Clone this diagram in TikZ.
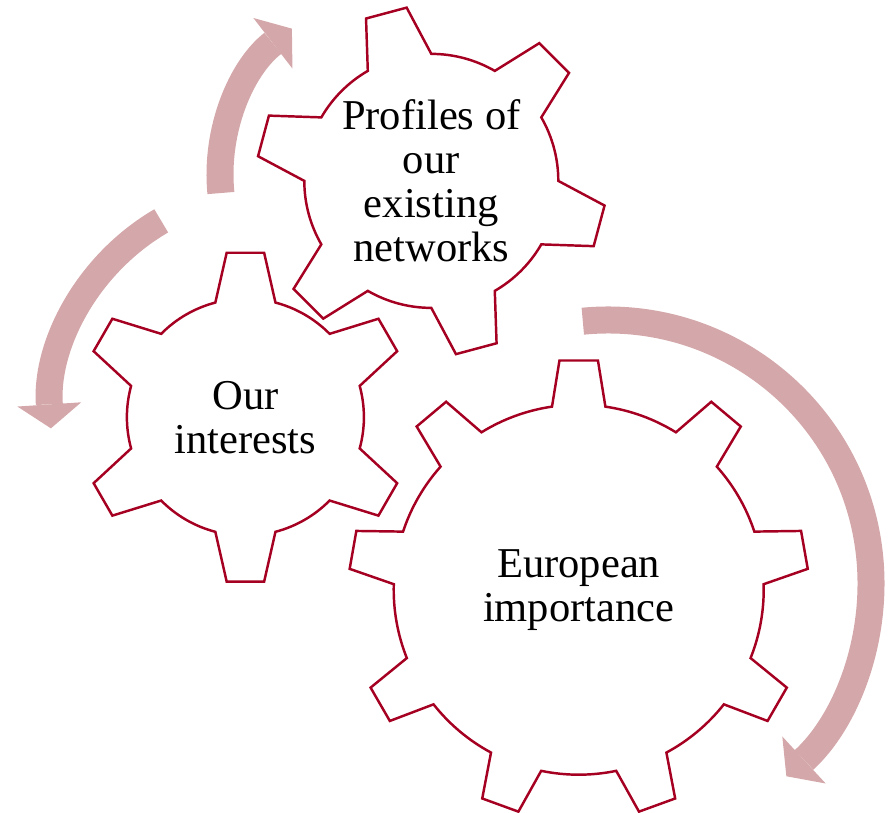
\documentclass[tikz,border=0pt]{standalone}
\usepackage{fontspec}
\setmainfont{Liberation Serif}
\usetikzlibrary{arrows.meta}
\definecolor{gearred}{RGB}{165,0,33}
\definecolor{flowpink}{RGB}{212,168,170}
\newcommand{\gear}[7]{%
  \pgfmathsetmacro{\gstep}{360/#2}%
  \draw[cog, shift={(#1)}] (#3-\gstep/2:#5)
    \foreach \k [evaluate=\k as \ta using #3+(\k-1)*\gstep] in {1,...,#2} {
      arc [start angle=\ta-\gstep/2, end angle=\ta-#7, radius=#5]
      -- (\ta-#6:#4) -- (\ta+#6:#4) -- (\ta+#7:#5)
      arc [start angle=\ta+#7, end angle=\ta+\gstep/2, radius=#5]
    } -- cycle;}

\begin{document}
\begin{tikzpicture}[cog/.style={draw=gearred, line width=1.4pt, fill=white},
	flow/.style={flowpink, line width=0.54cm, -{Triangle[width=1.28cm, length=0.48cm, line width=0pt]}},
	txt/.style={align=center, font=\fontsize{24.2pt}{25pt}\selectfont}]
	\useasboundingbox (0,0) rectangle (17.9,16.26);
	\coordinate (gleft) at (4.908,7.916);
	\coordinate (gtop) at (8.626,12.642);
	\coordinate (gbig) at (11.574,4.466);
	\coordinate (aleft) at (5.468,7.988);
	\coordinate (atop) at (8.1,12.76);
	\coordinate (aright) at (12.16,4.60);
	\draw [flow] (aright) ++(95.5:5.26) arc [start angle=95.5, end angle=-47.3, radius=5.26];
	\draw [flow] (atop) ++(185.6:3.7) arc [start angle=185.6, end angle=127.7, radius=3.7];
	\draw [flow] (aleft) ++(120.2:4.46) arc [start angle=120.2, end angle=183.8, radius=4.46];
	\gear{gleft}{6}{30}{3.31}{2.37}{6.5}{14.7}
	\gear{gtop}{6}{45}{3.5}{2.54}{6.9}{15}
	\gear{gbig}{9}{90}{4.6}{3.7}{4.8}{8.3}
	\node [txt] (interests) at (gleft) {Our\\interests};
	\node [txt] (profiles) at (gtop) {Profiles of\\our\\existing\\networks};
	\node [txt] (europe) at (gbig) {European\\importance};
\end{tikzpicture}
\end{document}
